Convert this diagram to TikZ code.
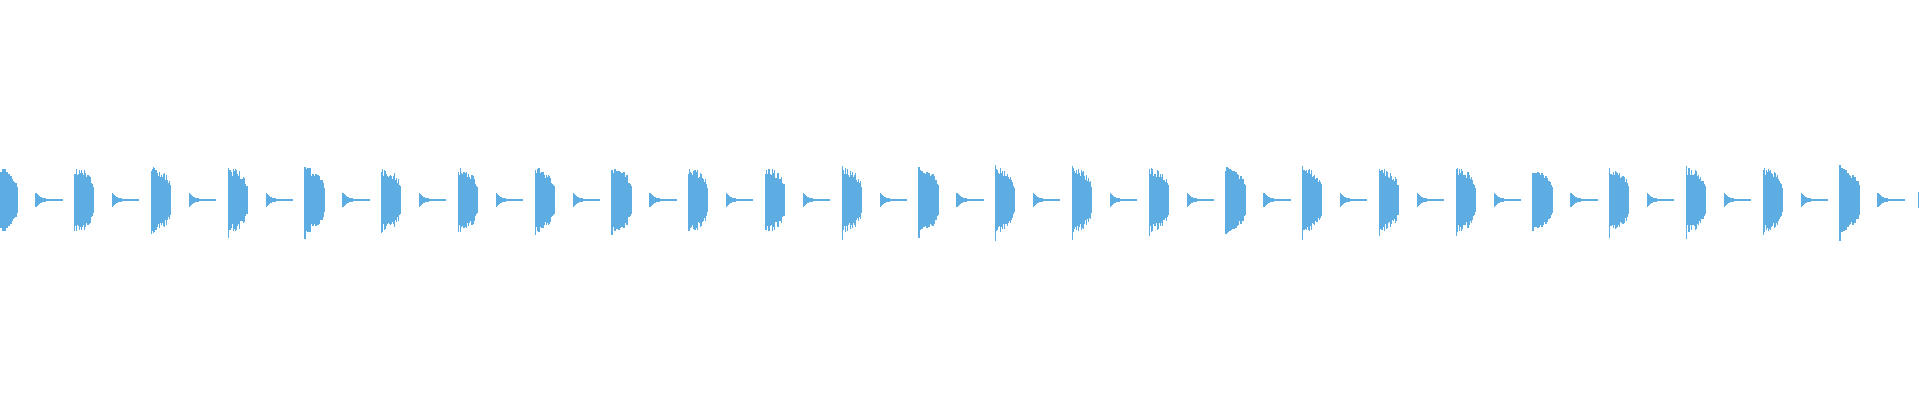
\documentclass[tikz,border=0pt]{standalone}
\definecolor{wave}{HTML}{5DADE2}
\tikzset{
    bar/.style = {draw=wave, line width=1.1pt}
}
\begin{document}
\begin{tikzpicture}[x=1pt,y=1pt]
\useasboundingbox (0,0) rectangle (1920,400);
\pgfmathsetseed{7}

% loud hits
\foreach \k in {0,...,24}{
    \pgfmathsetmacro{\xo}{-2+76.75*\k}
    \pgfmathsetmacro{\pk}{30+12*rnd}
    \draw[bar] (\xo,200-\pk) -- (\xo,200+\pk*0.85);
    \foreach \t in {1,...,19}{
        \pgfmathsetmacro{\hh}{(8+22*sqrt(1-(\t/20)^2))*(0.8+0.3*rnd)}
        \draw[bar] (\xo+\t,200-\hh) -- (\xo+\t,200+\hh);
    }
}

% soft tails
\foreach \k in {0,...,24}{
    \pgfmathsetmacro{\xs}{36+76.75*\k}
    \foreach \t in {0,...,26}{
        \pgfmathsetmacro{\hh}{6.5*exp(-\t/5)+0.5}
        \draw[bar] (\xs+\t,200-\hh) -- (\xs+\t,200+\hh);
    }
}

% last tick
\draw[bar] (1918.5,192) -- (1918.5,208);
\end{tikzpicture}
\end{document}
